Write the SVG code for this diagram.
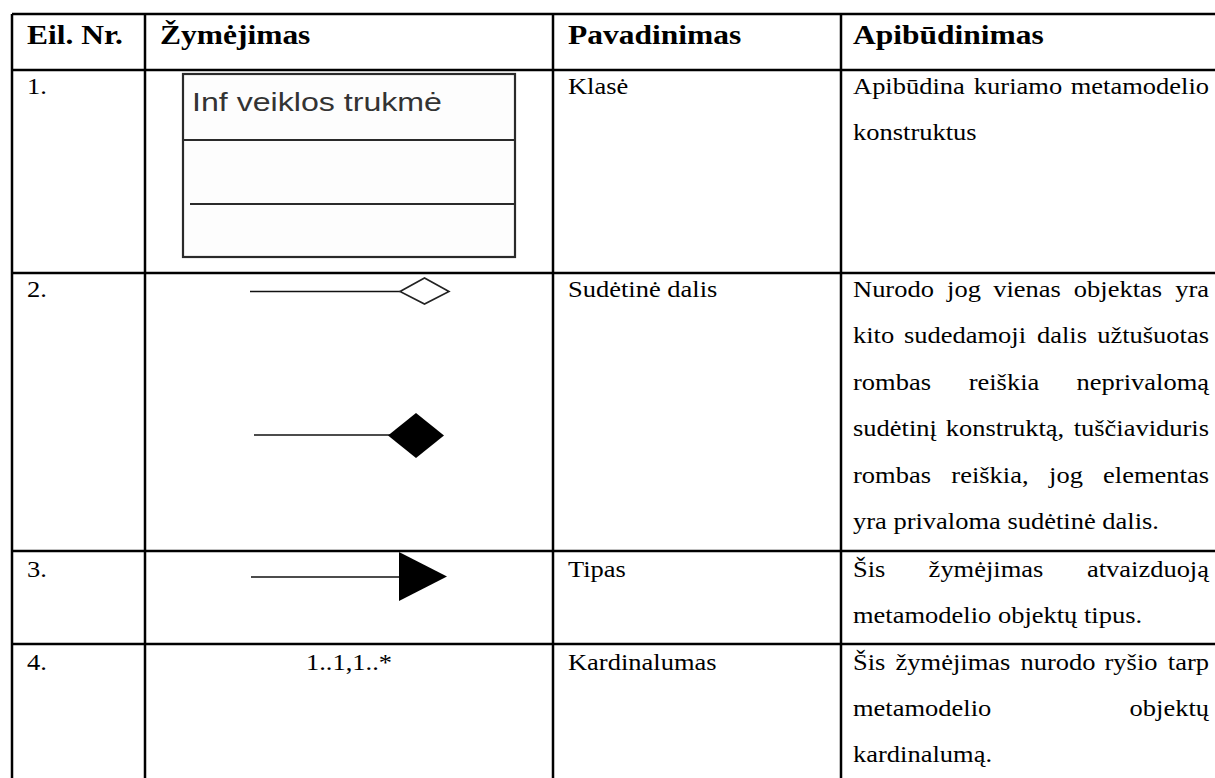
<svg xmlns="http://www.w3.org/2000/svg" width="1215" height="778" viewBox="0 0 1215 778">
  <style>
    .t { font-family: "Liberation Serif", "Times New Roman", serif; font-size: 26.5px; fill: #000; }
    .h { font-family: "Liberation Serif", "Times New Roman", serif; font-size: 31.5px; font-weight: bold; fill: #000; }
    .cls { font-family: "Liberation Sans", Arial, sans-serif; font-size: 29px; fill: #333; }
    .m { text-anchor: middle; }
    .e { text-anchor: end; }
    .grid line { stroke: #000; stroke-width: 2.5; }
    .stem { stroke: #111; stroke-width: 1.6; }
    .box { fill: #fdfdfd; stroke: #2a2a2a; stroke-width: 2.2; }
    .sep { stroke: #2a2a2a; stroke-width: 2; }
  </style>

  <rect width="1215" height="778" fill="#fff"/>

  <!-- table rules -->
  <g id="grid" class="grid">
    <line x1="12" y1="14" x2="1215" y2="14"/>
    <line x1="12" y1="70" x2="1215" y2="70"/>
    <line x1="12" y1="273" x2="1215" y2="273"/>
    <line x1="12" y1="551" x2="1215" y2="551"/>
    <line x1="12" y1="644" x2="1215" y2="644"/>
    <line x1="12" y1="14" x2="12" y2="778"/>
    <line x1="145" y1="14" x2="145" y2="778"/>
    <line x1="553" y1="14" x2="553" y2="778"/>
    <line x1="841" y1="14" x2="841" y2="778"/>
  </g>

  <!-- header row -->
  <g id="header" transform="translate(0,44) scale(1,0.86)">
    <text class="h" x="27" y="0">Eil. Nr.</text>
    <text class="h" x="160" y="0">Žymėjimas</text>
    <text class="h" x="568" y="0">Pavadinimas</text>
    <text class="h" x="853" y="0">Apibūdinimas</text>
  </g>

  <!-- row 1: class -->
  <g id="row1">
    <g transform="translate(0,94) scale(1,0.86)">
      <text class="t" x="27" y="0">1.</text>
      <text class="t" x="568" y="0">Klasė</text>
      <text class="t" x="853" y="0">Apibūdina</text>
      <text class="t m" x="1018" y="0">kuriamo</text>
      <text class="t e" x="1209" y="0">metamodelio</text>
    </g>
    <g transform="translate(0,140) scale(1,0.86)">
      <text class="t" x="853" y="0">konstruktus</text>
    </g>
    <g id="class-symbol">
      <rect class="box" x="183" y="74" width="332" height="183"/>
      <line class="sep" x1="183" y1="140" x2="515" y2="140"/>
      <line class="sep" x1="190" y1="204" x2="515" y2="204"/>
      <g transform="translate(0,111) scale(1,0.86)">
        <text class="cls" x="192" y="0" textLength="250" lengthAdjust="spacingAndGlyphs">Inf veiklos trukmė</text>
      </g>
    </g>
  </g>

  <!-- row 2: composition -->
  <g id="row2">
    <g id="aggregation-symbol">
      <line class="stem" x1="250" y1="291.5" x2="400" y2="291.5"/>
      <polygon points="400,291.5 424.5,278 449,291.5 424.5,304" fill="#fff" stroke="#222" stroke-width="1.6"/>
    </g>
    <g id="composition-symbol">
      <line class="stem" x1="254" y1="435" x2="390" y2="435"/>
      <polygon points="388,435.5 416,413 444,435.5 416,458" fill="#000"/>
    </g>
    <g transform="translate(0,297) scale(1,0.86)">
      <text class="t" x="27" y="0">2.</text>
      <text class="t" x="568" y="0">Sudėtinė dalis</text>
      <text class="t" x="853" y="0">Nurodo</text>
      <text class="t m" x="964" y="0">jog</text>
      <text class="t m" x="1027" y="0">vienas</text>
      <text class="t m" x="1118" y="0">objektas</text>
      <text class="t e" x="1209" y="0">yra</text>
    </g>
    <g transform="translate(0,343) scale(1,0.86)">
      <text class="t" x="853" y="0">kito</text>
      <text class="t m" x="965" y="0">sudedamoji</text>
      <text class="t m" x="1062" y="0">dalis</text>
      <text class="t e" x="1209" y="0">užtušuotas</text>
    </g>
    <g transform="translate(0,390) scale(1,0.86)">
      <text class="t" x="853" y="0">rombas</text>
      <text class="t m" x="1004" y="0">reiškia</text>
      <text class="t e" x="1209" y="0">neprivalomą</text>
    </g>
    <g transform="translate(0,436) scale(1,0.86)">
      <text class="t" x="853" y="0">sudėtinį</text>
      <text class="t m" x="1005" y="0">konstruktą,</text>
      <text class="t e" x="1209" y="0">tuščiaviduris</text>
    </g>
    <g transform="translate(0,483) scale(1,0.86)">
      <text class="t" x="853" y="0">rombas</text>
      <text class="t m" x="990" y="0">reiškia,</text>
      <text class="t m" x="1066" y="0">jog</text>
      <text class="t e" x="1209" y="0">elementas</text>
    </g>
    <g transform="translate(0,529) scale(1,0.86)">
      <text class="t" x="853" y="0">yra privaloma sudėtinė dalis.</text>
    </g>
  </g>

  <!-- row 3: type -->
  <g id="row3">
    <g id="type-symbol">
      <line class="stem" x1="251" y1="577" x2="400" y2="577"/>
      <polygon points="399,552 447,576.5 399,601" fill="#000"/>
    </g>
    <g transform="translate(0,577) scale(1,0.86)">
      <text class="t" x="27" y="0">3.</text>
      <text class="t" x="568" y="0">Tipas</text>
      <text class="t" x="853" y="0">Šis</text>
      <text class="t m" x="986" y="0">žymėjimas</text>
      <text class="t e" x="1209" y="0">atvaizduoją</text>
    </g>
    <g transform="translate(0,623) scale(1,0.86)">
      <text class="t" x="853" y="0">metamodelio objektų tipus.</text>
    </g>
  </g>

  <!-- row 4: cardinality -->
  <g id="row4">
    <g transform="translate(0,670) scale(1,0.86)">
      <text class="t" x="27" y="0">4.</text>
      <text class="t m" x="349" y="0">1..1,1..*</text>
      <text class="t" x="568" y="0">Kardinalumas</text>
      <text class="t" x="853" y="0">Šis</text>
      <text class="t m" x="953" y="0">žymėjimas</text>
      <text class="t m" x="1058" y="0">nurodo</text>
      <text class="t m" x="1131" y="0">ryšio</text>
      <text class="t e" x="1209" y="0">tarp</text>
    </g>
    <g transform="translate(0,716) scale(1,0.86)">
      <text class="t" x="853" y="0">metamodelio</text>
      <text class="t e" x="1209" y="0">objektų</text>
    </g>
    <g transform="translate(0,762) scale(1,0.86)">
      <text class="t" x="853" y="0">kardinalumą.</text>
    </g>
  </g>
</svg>
